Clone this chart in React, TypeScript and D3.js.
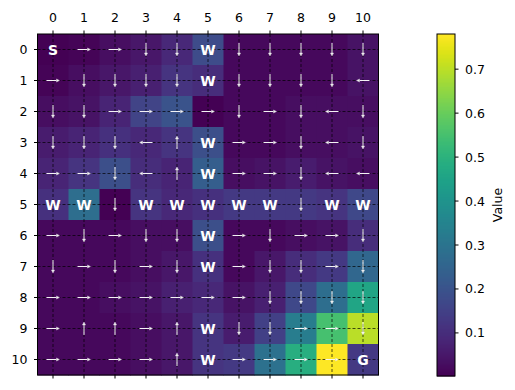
import React from 'react';
import * as d3 from 'd3';

const rows = [0, 1, 2, 3, 4, 5, 6, 7, 8, 9, 10];
const cols = [0, 1, 2, 3, 4, 5, 6, 7, 8, 9, 10];

// state values, one row per grid row
const values = [
  [0.005, 0.01, 0.03, 0.05, 0.09, 0.18, 0.02, 0.02, 0.02, 0.02, 0.04],
  [0.01, 0.03, 0.05, 0.07, 0.12, 0.1, 0.02, 0.02, 0.02, 0.02, 0.04],
  [0.03, 0.04, 0.08, 0.16, 0.2, 0.005, 0.02, 0.02, 0.03, 0.03, 0.03],
  [0.06, 0.08, 0.11, 0.09, 0.12, 0.19, 0.02, 0.02, 0.03, 0.03, 0.04],
  [0.08, 0.12, 0.19, 0.1, 0.08, 0.23, 0.03, 0.04, 0.06, 0.04, 0.03],
  [0.11, 0.28, 0.002, 0.12, 0.09, 0.11, 0.13, 0.13, 0.13, 0.12, 0.17],
  [0.02, 0.02, 0.02, 0.03, 0.03, 0.19, 0.02, 0.02, 0.03, 0.04, 0.1],
  [0.02, 0.02, 0.02, 0.03, 0.05, 0.11, 0.02, 0.05, 0.1, 0.13, 0.26],
  [0.02, 0.02, 0.03, 0.04, 0.07, 0.09, 0.04, 0.07, 0.17, 0.28, 0.46],
  [0.02, 0.02, 0.02, 0.03, 0.05, 0.12, 0.06, 0.15, 0.33, 0.55, 0.7],
  [0.02, 0.02, 0.02, 0.03, 0.05, 0.12, 0.13, 0.29, 0.49, 0.78, 0.13],
];

// S start, G goal, W wall, > < v ^ greedy action
const policy = [
  'S>>vvWvvvvv',
  '>vvvvWvvvv<',
  'vv>>>>v>v<v',
  'vvv<^W>>v<v',
  '>>v<^W>>v<<',
  'WWvWWWWWvWW',
  '>v>vvW>v>>v',
  'v>v>vW>vv>v',
  '>>>>>>>vvvv',
  '>^^>^Wvv>>v',
  '>>>>^W>>>>G',
];

const cbTicks = [0.1, 0.2, 0.3, 0.4, 0.5, 0.6, 0.7];

const dirs: Record<string, [number, number]> = {
  '>': [1, 0],
  '<': [-1, 0],
  'v': [0, 1],
  '^': [0, -1],
};

export default function App() {
  const left = 37.5, top = 34, size = 341;
  const x = d3.scaleBand<number>().domain(cols).range([left, left + size]);
  const y = d3.scaleBand<number>().domain(rows).range([top, top + size]);
  const flat = values.flat();
  const ext = d3.extent(flat) as [number, number];
  const color = d3.scaleSequential(d3.interpolateViridis).domain(ext);

  const cbX = 437, cbW = 18, cbTop = 34, cbBot = 376;
  const cbY = d3.scaleLinear().domain(ext).range([cbBot, cbTop]);
  const steps = d3.range(cbBot, cbTop, -1);

  const font = 'DejaVu Sans, sans-serif';
  const fs = 12.5;
  const half = 6.5;

  return (
    <svg width={515} height={390} style={{ position: 'absolute', left: 0, top: 0, background: '#fff' }} fontFamily={font}>
      {rows.map(r => cols.map(c => (
        <rect key={`c${r}-${c}`} x={x(c)} y={y(r)} width={x.bandwidth() + 0.5} height={y.bandwidth() + 0.5}
          fill={color(values[r][c])} />
      )))}
      {/* grid through cell centres */}
      {cols.map(c => (
        <line key={`gx${c}`} x1={x(c)! + x.bandwidth() / 2} x2={x(c)! + x.bandwidth() / 2} y1={top} y2={top + size}
          stroke="#000" strokeWidth={0.8} strokeDasharray="3,2" opacity={0.85} />
      ))}
      {rows.map(r => (
        <line key={`gy${r}`} y1={y(r)! + y.bandwidth() / 2} y2={y(r)! + y.bandwidth() / 2} x1={left} x2={left + size}
          stroke="#000" strokeWidth={0.8} strokeDasharray="3,2" opacity={0.85} />
      ))}
      {/* arrows and labels */}
      {rows.map(r => cols.map(c => {
        const ch = policy[r][c];
        const cx = x(c)! + x.bandwidth() / 2;
        const cy = y(r)! + y.bandwidth() / 2;
        if (ch === 'S' || ch === 'G' || ch === 'W') {
          return (
            <text key={`t${r}-${c}`} x={cx} y={cy + 5} textAnchor="middle" fill="#fff" fontWeight="bold" fontSize={14}>
              {ch}
            </text>
          );
        }
        const [dx, dy] = dirs[ch];
        const x1 = cx - dx * half, y1 = cy - dy * half;
        const x2 = cx + dx * half, y2 = cy + dy * half;
        const px = -dy, py = dx;
        const hl = 3, hw = 1.6;
        const bx = x2 - dx * hl, by = y2 - dy * hl;
        const head = `M${x2},${y2}L${bx + px * hw},${by + py * hw}L${bx - px * hw},${by - py * hw}Z`;
        return (
          <g key={`a${r}-${c}`} opacity={0.95}>
            <line x1={x1} y1={y1} x2={bx} y2={by} stroke="#fff" strokeWidth={1} />
            <path d={head} fill="#fff" stroke="#ddd" strokeWidth={0.4} />
          </g>
        );
      }))}
      <rect x={left} y={top} width={size} height={size} fill="none" stroke="#000" strokeWidth={1} />
      {/* top ticks with labels */}
      {cols.map(c => {
        const cx = x(c)! + x.bandwidth() / 2;
        return (
          <g key={`tx${c}`}>
            <line x1={cx} x2={cx} y1={top} y2={top - 3.5} stroke="#000" />
            <line x1={cx} x2={cx} y1={top + size} y2={top + size + 3.5} stroke="#000" />
            <text x={cx} y={top - 12.5} textAnchor="middle" fontSize={fs} fill="#000">{c}</text>
          </g>
        );
      })}
      {rows.map(r => {
        const cy = y(r)! + y.bandwidth() / 2;
        return (
          <g key={`ty${r}`}>
            <line x1={left} x2={left - 3.5} y1={cy} y2={cy} stroke="#000" />
            <text x={left - 10} y={cy + 4.5} textAnchor="end" fontSize={fs} fill="#000">{r}</text>
          </g>
        );
      })}
      {/* colorbar */}
      {steps.map(s => (
        <rect key={`cb${s}`} x={cbX} y={s - 1} width={cbW} height={1.5} fill={color(cbY.invert(s - 0.5))} />
      ))}
      <rect x={cbX} y={cbTop} width={cbW} height={cbBot - cbTop} fill="none" stroke="#000" strokeWidth={1} />
      {cbTicks.map(t => (
        <g key={`cbt${t}`}>
          <line x1={cbX + cbW} x2={cbX + cbW + 3.5} y1={cbY(t)} y2={cbY(t)} stroke="#000" />
          <text x={cbX + cbW + 10} y={cbY(t) + 4.5} fontSize={fs} fill="#000">{t.toFixed(1)}</text>
        </g>
      ))}
      <text transform={`translate(502,${(cbTop + cbBot) / 2}) rotate(-90)`} textAnchor="middle" fontSize={fs} fill="#000">Value</text>
    </svg>
  );
}
